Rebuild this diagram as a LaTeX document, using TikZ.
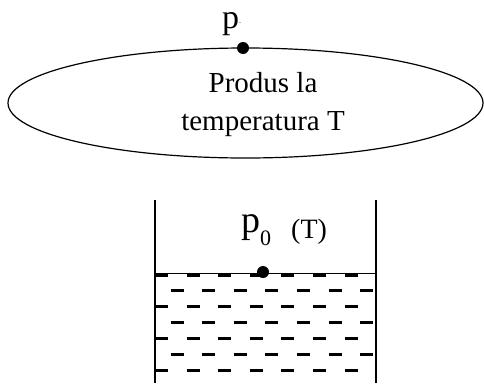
\documentclass[tikz,border=0pt]{standalone}
\usepackage{fontspec}
\setmainfont{Liberation Serif}
\usepackage{tikz}
\usetikzlibrary{shapes.geometric,positioning,calc}

\begin{document}
\begin{tikzpicture}[x=1pt,y=-1pt,
  vessel/.style={line width=1.4pt}, liquid/.style={line width=3.4pt,dash pattern=on 13pt off 18.6pt},
  pt/.style={circle,fill,inner sep=0pt,minimum size=12pt}, lbl/.style={inner sep=0pt}]
  \useasboundingbox (0,0) rectangle (484,383);
  \node[draw,ellipse,line width=1.2pt,minimum width=475pt,minimum height=110pt](gas) at (245.5,103){};
  \node[lbl,anchor=base,align=center,font=\fontsize{29}{38}\selectfont](txt) at (263,130){Produs la\\temperatura T};
  \node[pt](dp) at (243,48){};
  \node[lbl,anchor=base west,font=\fontsize{34}{34}\selectfont](p) at (222,28){p{\fontsize{8}{8}\selectfont\raisebox{5pt}{.}}};
  % vessel
  \coordinate(wl) at (155,200); \coordinate(wr) at (376,200);
  \coordinate(bl) at (155,383); \coordinate(br) at (376,383);
  \draw[vessel](wl)--(bl); \draw[vessel](wr)--(br);
  \coordinate(sl) at (155,273.5); \coordinate(sr) at (376,273.5);
  \draw[line width=0.9pt](sl)--(sr);
  \draw[liquid]($(sl)+(0,1.5)$)--($(sr)+(0,1.5)$);
  \draw[liquid,dash phase=16.1pt](155,290.5)--(376,290.5); \draw[liquid](155,306.5)--(376,306.5);
  \draw[liquid,dash phase=16.1pt](155,322.5)--(376,322.5); \draw[liquid](155,338.5)--(376,338.5);
  \draw[liquid,dash phase=16.1pt](155,354.5)--(376,354.5); \draw[liquid](155,370.5)--(376,370.5);
  \node[pt](dl) at (263,272){};
  \node[lbl,anchor=base west,font=\fontsize{38}{38}\selectfont](p0) at (241,232)
    {p\raisebox{-13pt}{\fontsize{22}{22}\selectfont 0}\hspace{20pt}\raisebox{-6pt}{\fontsize{28}{28}\selectfont (T)}};
\end{tikzpicture}
\end{document}
